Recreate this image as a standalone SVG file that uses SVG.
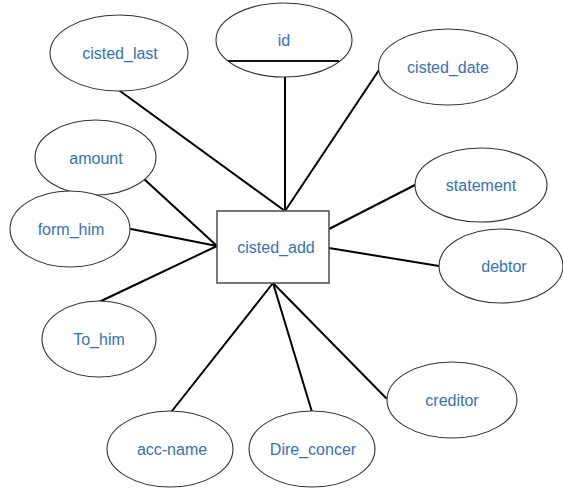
<svg xmlns="http://www.w3.org/2000/svg" width="563" height="490" viewBox="0 0 563 490">
<style>
.attr ellipse{fill:#fff;stroke:#333;stroke-width:1.1}
.ent rect{fill:#fff;stroke:#555;stroke-width:1.6}
text{font-family:"Liberation Sans",Arial,sans-serif;font-size:16px;fill:#3572bb;text-anchor:middle}
.conn line{stroke:#000;stroke-width:2;stroke-linecap:round}
.key{stroke:#111;stroke-width:2.2}
</style>
<rect width="563" height="490" fill="#fff"/>
<g class="conn">
<line x1="120" y1="91" x2="285" y2="211"/>
<line x1="285" y1="77" x2="285" y2="211"/>
<line x1="379" y1="70" x2="285" y2="211"/>
<line x1="144" y1="179" x2="217" y2="246"/>
<line x1="131" y1="229" x2="217" y2="246"/>
<line x1="99" y1="302" x2="217" y2="246"/>
<line x1="415" y1="185" x2="329" y2="229"/>
<line x1="439" y1="266" x2="329" y2="248"/>
<line x1="273" y1="283" x2="172" y2="411"/>
<line x1="273" y1="283" x2="312" y2="412"/>
<line x1="273" y1="283" x2="386" y2="398"/>
</g>
<g id="cisted_last" class="attr"><ellipse cx="119" cy="53" rx="69" ry="38"/><text x="120" y="58.5">cisted_last</text></g>
<g id="id" class="attr"><ellipse cx="284" cy="40" rx="68" ry="37"/><line class="key" x1="228" y1="61" x2="339" y2="61"/><text x="284" y="46">id</text></g>
<g id="cisted_date" class="attr"><ellipse cx="448" cy="67" rx="69.5" ry="38"/><text x="448" y="73">cisted_date</text></g>
<g id="amount" class="attr"><ellipse cx="95.5" cy="157.5" rx="60.5" ry="37.5"/><text x="96" y="164">amount</text></g>
<g id="form_him" class="attr"><ellipse cx="70" cy="229" rx="60" ry="38"/><text x="71" y="235">form_him</text></g>
<g id="statement" class="attr"><ellipse cx="481" cy="185" rx="66" ry="37"/><text x="481" y="191">statement</text></g>
<g id="cisted_add" class="ent"><rect x="217" y="211" width="112" height="72"/><text x="276" y="253">cisted_add</text></g>
<g id="debtor" class="attr"><ellipse cx="501" cy="266" rx="62" ry="37"/><text x="504" y="272">debtor</text></g>
<g id="To_him" class="attr"><ellipse cx="99" cy="339" rx="57" ry="38"/><text x="99" y="345">To_him</text></g>
<g id="creditor" class="attr"><ellipse cx="452" cy="400" rx="65" ry="38"/><text x="452" y="406">creditor</text></g>
<g id="acc-name" class="attr"><ellipse cx="170" cy="449" rx="63" ry="38"/><text x="172" y="455">acc-name</text></g>
<g id="Dire_concer" class="attr"><ellipse cx="312" cy="449" rx="63" ry="38"/><text x="313" y="455">Dire_concer</text></g>
</svg>
